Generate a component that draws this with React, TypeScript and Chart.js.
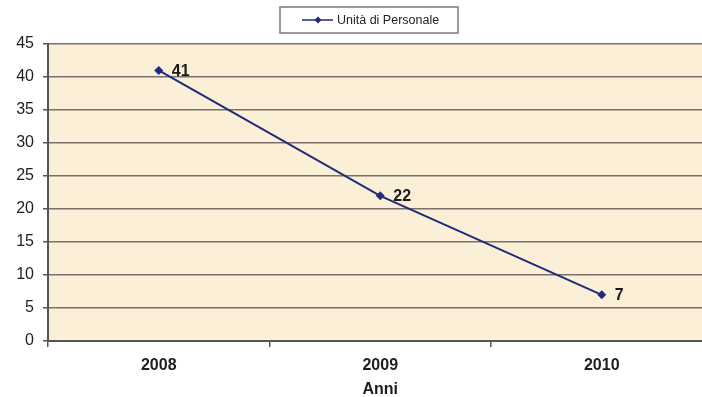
import React, { useEffect, useRef } from "react";
import { Chart, registerables } from "chart.js";

Chart.register(...registerables);

const categories = ["2008", "2009", "2010"];
const values = [41, 22, 7];
const seriesName = "Unità di Personale";
const axisTitle = "Anni";
const yMin = 0;
const yMax = 45;
const yStep = 5;

const FONT = "'Liberation Sans', Arial, sans-serif";
const LINE_COLOR = "#222a7c";

export default function App() {
  const ref = useRef<HTMLCanvasElement | null>(null);

  useEffect(() => {
    if (!ref.current) return;
    document.body.style.overflow = "hidden";

    const bgPlugin = {
      id: "plotBg",
      beforeDraw(chart: any) {
        const { ctx, chartArea: a } = chart;
        ctx.save();
        ctx.fillStyle = "#fbf0d7";
        ctx.fillRect(a.left, a.top, a.right - a.left, a.bottom - a.top);
        ctx.restore();
      },
    };

    const labelPlugin = {
      id: "valueLabels",
      afterDatasetsDraw(chart: any) {
        const { ctx } = chart;
        const meta = chart.getDatasetMeta(0);
        ctx.save();
        ctx.font = `bold 16px ${FONT}`;
        ctx.fillStyle = "#1a1a1a";
        ctx.textAlign = "left";
        ctx.textBaseline = "middle";
        meta.data.forEach((pt: any, i: number) => {
          ctx.fillText(String(values[i]), pt.x + 13, pt.y + 1);
        });
        ctx.restore();
      },
    };

    const legendPlugin = {
      id: "boxLegend",
      afterDraw(chart: any) {
        const { ctx } = chart;
        const x = 280, y = 7, w = 178, h = 26;
        ctx.save();
        ctx.fillStyle = "#ffffff";
        ctx.fillRect(x, y, w, h);
        ctx.strokeStyle = "#7a7a7a";
        ctx.lineWidth = 1.5;
        ctx.strokeRect(x, y, w, h);
        const cy = y + h / 2;
        ctx.strokeStyle = LINE_COLOR;
        ctx.lineWidth = 1.5;
        ctx.beginPath();
        ctx.moveTo(302, cy);
        ctx.lineTo(333, cy);
        ctx.stroke();
        ctx.fillStyle = LINE_COLOR;
        ctx.beginPath();
        ctx.moveTo(318, cy - 3.5);
        ctx.lineTo(321.5, cy);
        ctx.lineTo(318, cy + 3.5);
        ctx.lineTo(314.5, cy);
        ctx.closePath();
        ctx.fill();
        ctx.font = `12.5px ${FONT}`;
        ctx.fillStyle = "#222";
        ctx.textAlign = "left";
        ctx.textBaseline = "middle";
        ctx.fillText(seriesName, 337, cy + 0.5);
        ctx.restore();
      },
    };

    const chart = new Chart(ref.current, {
      type: "line",
      data: {
        labels: categories,
        datasets: [
          {
            label: seriesName,
            data: values,
            borderColor: LINE_COLOR,
            backgroundColor: LINE_COLOR,
            borderWidth: 2,
            pointStyle: "rectRot",
            pointRadius: 4.5,
            pointBorderWidth: 0,
            tension: 0,
          },
        ],
      },
      options: {
        responsive: false,
        animation: false,
        layout: { padding: { top: 44, right: 17.5, left: 0, bottom: 0 } },
        plugins: {
          legend: { display: false },
          tooltip: { enabled: false },
        },
        scales: {
          x: {
            offset: true,
            afterFit(s: any) {
              s.height = 56;
            },
            grid: {
              offset: true,
              drawOnChartArea: false,
              drawTicks: true,
              tickLength: 6,
              color: "#555",
              lineWidth: 1.5,
            },
            border: { display: true, color: "#555", width: 2 },
            ticks: {
              font: { family: FONT, size: 16, weight: "bold" },
              color: "#1e1e1e",
              padding: 9,
            },
            title: {
              display: true,
              text: axisTitle,
              font: { family: FONT, size: 16, weight: "bold" },
              color: "#1e1e1e",
              padding: { top: 0, bottom: -2 },
            },
          },
          y: {
            min: yMin,
            max: yMax,
            afterFit(s: any) {
              s.width = 48;
            },
            grid: {
              color: "#77716a",
              lineWidth: 1.5,
              drawTicks: true,
              tickLength: 5,
              tickColor: "#555",
            },
            border: { display: true, color: "#555", width: 2 },
            ticks: {
              stepSize: yStep,
              font: { family: FONT, size: 16 },
              color: "#1e1e1e",
              padding: 9,
            },
          },
        },
      },
      plugins: [bgPlugin, labelPlugin, legendPlugin],
    });

    return () => chart.destroy();
  }, []);

  return (
    <div style={{ position: "fixed", left: 0, top: 0, width: 730, height: 397 }}>
      <canvas ref={ref} width={730} height={397} style={{ width: 730, height: 397 }} />
    </div>
  );
}
